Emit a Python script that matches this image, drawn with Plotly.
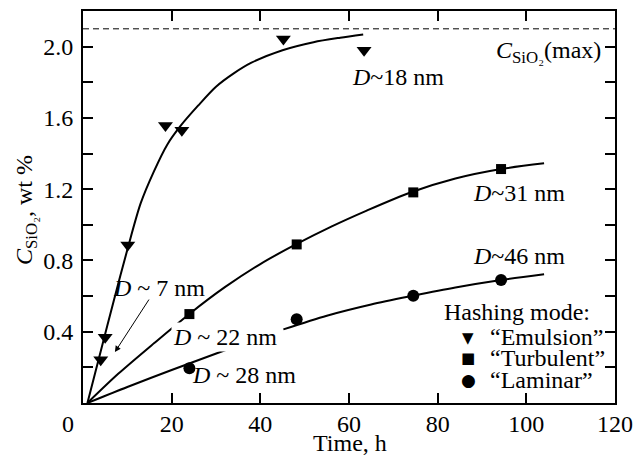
import plotly.graph_objects as go

emul_t = [4.0, 5.0, 10.1, 18.6, 22.3, 45.2, 63.4]
emul_c = [0.243, 0.369, 0.887, 1.557, 1.531, 2.043, 1.98]

turb_t = [24.0, 48.2, 74.5, 94.3]
turb_c = [0.499, 0.89, 1.182, 1.313]

lam_t = [24.0, 48.2, 74.5, 94.3]
lam_c = [0.195, 0.47, 0.602, 0.69]

# ---- fitted curves ----
emul_fit_t = [1, 4, 7, 10, 13, 16, 19, 22, 26, 30, 34, 38, 45, 52, 58, 63.2]
emul_fit_c = [0, 0.29, 0.58, 0.86, 1.12, 1.30, 1.45, 1.555, 1.67, 1.775, 1.85, 1.91, 1.98, 2.025, 2.05, 2.068]

turb_fit_t = [1, 8, 16, 24, 32, 40, 48, 56, 64, 74, 84, 94, 104]
turb_fit_c = [0, 0.165, 0.335, 0.5, 0.65, 0.78, 0.89, 0.99, 1.08, 1.183, 1.26, 1.312, 1.345]

lam_fit_t = [1, 10, 20, 32.8, None, 45.2, 55, 65, 74.5, 84, 94.3, 104]
lam_fit_c = [0, 0.09, 0.185, 0.303, None, 0.413, 0.49, 0.553, 0.602, 0.648, 0.69, 0.722]

C_MAX = 2.1

x_ticks = [20, 40, 60, 80, 100, 120]
y_ticks = [0.2, 0.4, 0.6, 0.8, 1.0, 1.2, 1.4, 1.6, 1.8, 2.0]
y_ticktext = ["", "0.4", "", "0.8", "", "1.2", "", "1.6", "", "2.0"]

FONT = "Liberation Serif"
W, H = 637, 466
L, R, T, B = 83, 22, 11, 63

fig = go.Figure()

line_style = dict(color="black", width=2, shape="spline", smoothing=0.8)
fig.add_trace(go.Scatter(x=emul_fit_t, y=emul_fit_c, mode="lines", line=line_style, showlegend=False))
fig.add_trace(go.Scatter(x=turb_fit_t, y=turb_fit_c, mode="lines", line=line_style, showlegend=False))
fig.add_trace(go.Scatter(x=lam_fit_t, y=lam_fit_c, mode="lines", line=line_style,
                         connectgaps=False, showlegend=False))

fig.add_trace(go.Scatter(x=emul_t, y=emul_c, mode="markers",
                         marker=dict(symbol="triangle-down", size=13, color="black"), showlegend=False))
fig.add_trace(go.Scatter(x=turb_t, y=turb_c, mode="markers",
                         marker=dict(symbol="square", size=10, color="black"), showlegend=False))
fig.add_trace(go.Scatter(x=lam_t, y=lam_c, mode="markers",
                         marker=dict(symbol="circle", size=12, color="black"), showlegend=False))

# C_max dashed line
fig.add_shape(type="line", xref="paper", x0=0, x1=1, yref="y", y0=C_MAX, y1=C_MAX,
              line=dict(color="black", width=1, dash="6px,4px"))

def px2paper(px, py):
    return (px - L) / (W - L - R), (H - B - py) / (H - T - B)

ann = []
def label(text, x, y, xanchor="left", yanchor="middle", **kw):
    ann.append(dict(text=text, x=x, y=y, xref="x", yref="y", xanchor=xanchor, yanchor=yanchor,
                    showarrow=False, font=dict(family=FONT, size=24, color="black"), **kw))

label("<i>D</i>~18 nm", 60.3, 1.83)
label("<i>D</i>~31 nm", 87.6, 1.178)
label("<i>D</i>~46 nm", 87.6, 0.825)
label("<i>D</i> ~ 7 nm", 6.4, 0.645)
label("<i>D</i> ~ 22 nm", 19.9, 0.37, bgcolor="white")
label("<i>D</i> ~ 28 nm", 24.2, 0.157)
label("<i>C</i><sub>SiO₂</sub>(max)", 117.3, 1.97, xanchor="right")

# arrow for D ~ 7 nm
ann.append(dict(x=7.2, y=0.286, ax=15.1, ay=0.589, xref="x", yref="y", axref="x", ayref="y",
                text="", showarrow=True, arrowhead=2, arrowsize=1.2, arrowwidth=1, arrowcolor="black"))

def plabel(text, px, py, xanchor="left", size=24, family=FONT, **kw):
    x, y = px2paper(px, py)
    ann.append(dict(text=text, x=x, y=y, xref="paper", yref="paper", xanchor=xanchor, yanchor="middle",
                    showarrow=False, font=dict(family=family, size=size, color="black"), **kw))

# manual legend
plabel("Hashing mode:", 442, 312)
plabel("“Emulsion”", 488, 337)
plabel("“Turbulent”", 488, 358)
plabel("“Laminar”", 488, 380)
plabel("▼", 468, 338, xanchor="center", size=15, family="DejaVu Sans")
plabel("■", 468, 358, xanchor="center", size=15, family="DejaVu Sans")
plabel("●", 468, 380, xanchor="center", size=17, family="DejaVu Sans")

# origin "0" label and axis titles
plabel("0", 68, 424, xanchor="center")
plabel("Time, h", 350, 443, xanchor="center")
x, y = px2paper(26, 210)
ann.append(dict(text="<i>C</i><sub>SiO₂</sub>, wt %", x=x, y=y, xref="paper", yref="paper",
                xanchor="center", yanchor="middle", textangle=-90, showarrow=False,
                font=dict(family=FONT, size=24, color="black")))

axis_common = dict(showline=True, linecolor="black", linewidth=2, mirror="ticks", ticks="inside",
                   ticklen=10, tickwidth=2, tickcolor="black", showgrid=False, zeroline=False,
                   automargin=False,
                   tickfont=dict(family=FONT, size=24, color="black"))

fig.update_layout(
    width=W, height=H, margin=dict(l=L, r=R, t=T, b=B, autoexpand=False),
    paper_bgcolor="white", plot_bgcolor="white",
    xaxis=dict(range=[0, 120], tickvals=x_ticks, ticklabelstandoff=-2, **axis_common),
    yaxis=dict(range=[0, 2.2], tickvals=y_ticks, ticktext=y_ticktext, ticklabelstandoff=3, **axis_common),
    annotations=ann,
    showlegend=False,
)

fig.write_html("out.html", config={"displayModeBar": False},
               post_script="document.body.style.margin='0';document.body.style.padding='0';")
